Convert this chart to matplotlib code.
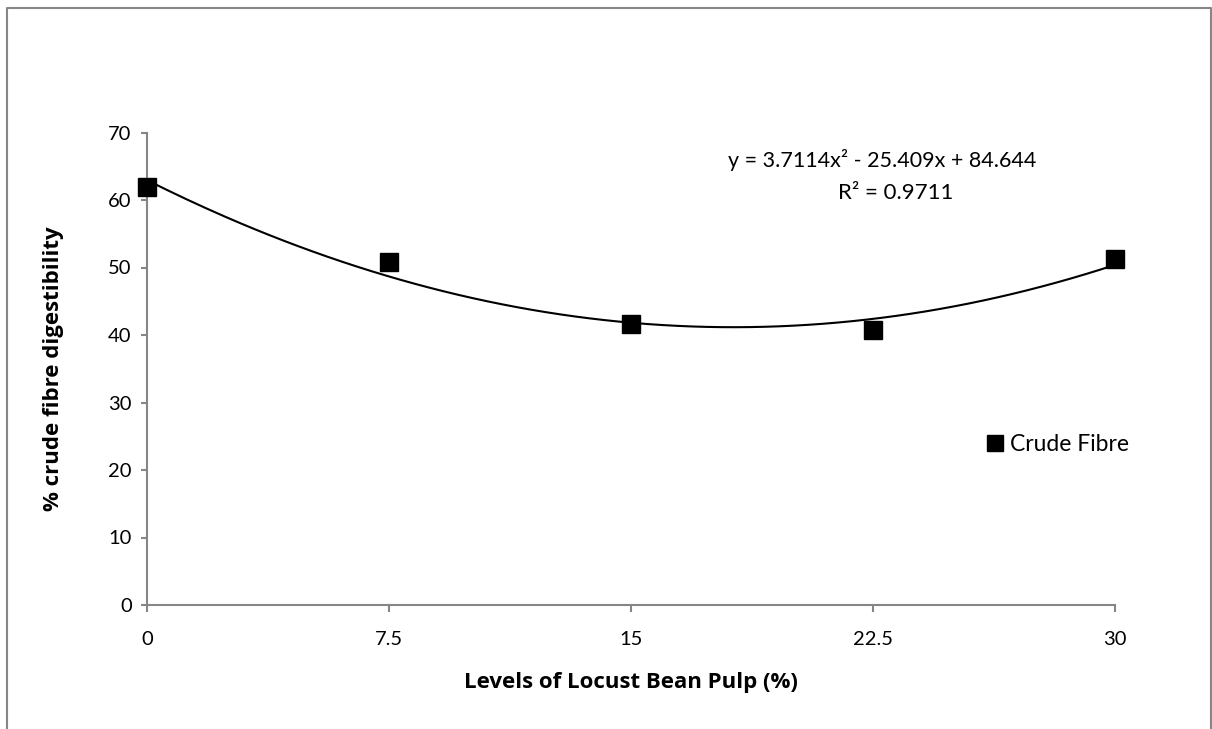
import matplotlib.pyplot as plt
import numpy as np
from matplotlib.lines import Line2D

plt.rcParams['font.family'] = ['Lato', 'DejaVu Sans']

# crude fibre digestibility at each inclusion level
levels = [0, 7.5, 15, 22.5, 30]
digestibility = [62.0, 50.8, 41.6, 40.7, 51.2]

# polynomial trendline (x = point number 1..5)
coef = [3.7114, -25.409, 84.644]
r2 = 0.9711

grey = "#868686"

fig = plt.figure(figsize=(12.12, 7.29), dpi=100)
ax = fig.add_axes([147/1212, 1-605/729, 968/1212, 472.5/729])

xs = np.linspace(0, 30, 200)
idx = xs/7.5 + 1
ax.plot(xs, np.polyval(coef, idx), color="black", lw=1.5, clip_on=False)
ax.plot(levels, digestibility, "s", color="black", markersize=13,
        clip_on=False, zorder=3, label="Crude Fibre")

ax.set_xlim(0, 30)
ax.set_ylim(0, 70)
ax.set_xticks(levels)
ax.set_xticklabels(["0", "7.5", "15", "22.5", "30"])
ax.set_yticks(range(0, 71, 10))

for s in ["top", "right"]:
    ax.spines[s].set_visible(False)
for s in ["left", "bottom"]:
    ax.spines[s].set_color(grey)
    ax.spines[s].set_linewidth(1.5)
ax.tick_params(axis="y", direction="out", length=4, width=1.5, color=grey,
               labelsize=14.5, pad=7)
ax.tick_params(axis="x", direction="out", length=5, width=1.5, color=grey,
               labelsize=14.5, pad=14)

lab = dict(fontsize=16, fontweight="bold", family=["Open Sans", "DejaVu Sans"])
ax.set_xlabel("Levels of Locust Bean Pulp (%)", **lab)
ax.set_ylabel("% crude fibre digestibility", **lab)
ax.xaxis.set_label_coords(0.5, -0.142)
ax.yaxis.set_label_coords(-0.086, 0.5)

fig.text(882/1212, 1-160/729,
         "y = %.4fx² - %.3fx + %.3f" % (coef[0], -coef[1], coef[2]),
         ha="center", va="center", fontsize=15.5)
fig.text(896/1212, 1-193/729, "R² = %.4f" % r2,
         ha="center", va="center", fontsize=16)

ax.legend(frameon=False, loc="center left", bbox_to_anchor=(985/1212, 1-445/729),
          bbox_transform=fig.transFigure, handlelength=0.9, handletextpad=0.2,
          borderpad=0, borderaxespad=0, fontsize=16.5, markerscale=0.85)

# chart area border (bottom edge falls outside the image)
fx = [7/1212, 7/1212, 1210.5/1212, 1210.5/1212]
fy = [-0.1, 1-7.5/729, 1-7.5/729, -0.1]
fig.add_artist(Line2D(fx, fy, transform=fig.transFigure, color=grey, lw=1.5))

fig.savefig("out.png", dpi=100)
